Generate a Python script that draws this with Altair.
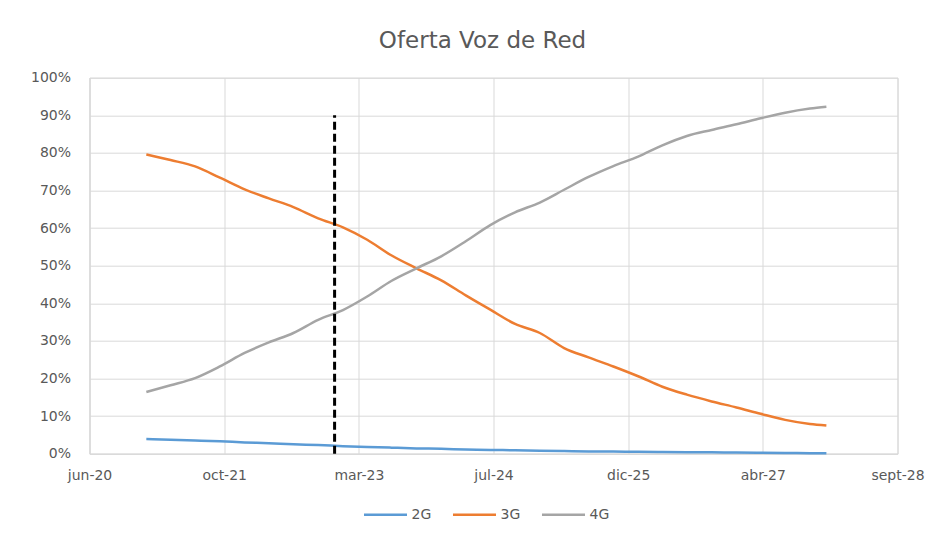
import altair as alt
import pandas as pd

dates = [
    "2021-01-15", "2021-04-15", "2021-07-15", "2021-10-15",
    "2022-01-15", "2022-04-15", "2022-07-15", "2022-10-15",
    "2023-01-15", "2023-04-15", "2023-07-15", "2023-10-15",
    "2024-01-15", "2024-04-15", "2024-07-15", "2024-10-15",
    "2025-01-15", "2025-04-15", "2025-07-15", "2025-10-15",
    "2026-01-15", "2026-04-15", "2026-07-15", "2026-10-15",
    "2027-01-15", "2027-04-15", "2027-07-15", "2027-10-15",
    "2027-12-15",
]
g2 = [3.9, 3.7, 3.5, 3.3, 3.0, 2.8, 2.5, 2.3, 2.0, 1.8, 1.6, 1.4, 1.3, 1.1, 1.0,
      0.9, 0.8, 0.7, 0.6, 0.55, 0.5, 0.45, 0.4, 0.35, 0.3, 0.25, 0.2, 0.15, 0.1]
g3 = [79.6, 78.1, 76.4, 73.4, 70.3, 67.9, 65.6, 62.6, 60.2, 56.9, 52.7, 49.3, 46.1,
      42.1, 38.3, 34.5, 32.1, 28.1, 25.6, 23.2, 20.6, 17.8, 15.7, 13.9, 12.3, 10.6,
      9.0, 7.9, 7.5]
g4 = [16.4, 18.2, 20.1, 23.2, 26.8, 29.6, 32.1, 35.6, 38.2, 41.8, 46.0, 49.3, 52.5,
      56.5, 60.8, 64.2, 66.8, 70.2, 73.6, 76.5, 79.0, 82.0, 84.5, 86.1, 87.6, 89.2,
      90.7, 91.8, 92.3]

series_names = ["2G", "3G", "4G"]
series_colors = ["#5B9BD5", "#ED7D31", "#A5A5A5"]

tick_dates = ["2020-06-18", "2021-10-31", "2023-03-15", "2024-07-27",
              "2025-12-09", "2027-04-23", "2028-09-04"]
tick_labels = ["jun-20", "oct-21", "mar-23", "jul-24", "dic-25", "abr-27", "sept-28"]
y_ticks = [0.0, 0.1, 0.2, 0.3, 0.4, 0.5, 0.6, 0.7, 0.8, 0.9, 1.0]

marker_date = "2022-12-15"
marker_top = 0.9

rows = []
for name, vals in zip(series_names, [g2, g3, g4]):
    for d, v in zip(dates, vals):
        rows.append({"fecha": d, "serie": name, "valor": v / 100.0})
df = pd.DataFrame(rows)

tick_ms = [int(pd.Timestamp(t).value // 10**6) for t in tick_dates]
label_expr = "[" + ",".join("'%s'" % l for l in tick_labels) + "][indexof([" + \
    ",".join(str(t) for t in tick_ms) + "], +datum.value)]"

font = "DejaVu Sans"
grey_txt = "#595959"
grid = "#D9D9D9"

x_scale = alt.Scale(domain=[tick_ms[0], tick_ms[-1]])
x_axis = alt.Axis(values=tick_ms, labelExpr=label_expr, title=None, ticks=False,
                  grid=True, gridColor=grid, domainColor=grid, labelColor=grey_txt,
                  labelFont=font, labelFontSize=14, labelPadding=15, labelFlush=False,
                  labelOverlap=False)
y_scale = alt.Scale(domain=[0, 1], nice=False)
y_axis = alt.Axis(format=".0%", values=y_ticks, title=None,
                  ticks=False, grid=True, gridColor=grid, domainColor=grid,
                  labelColor=grey_txt, labelFont=font, labelFontSize=14,
                  labelPadding=19, labelOverlap=False)

lines = alt.Chart(df).mark_line(strokeWidth=2.5, interpolate="monotone").encode(
    x=alt.X("fecha:T", scale=x_scale, axis=x_axis),
    y=alt.Y("valor:Q", scale=y_scale, axis=y_axis),
    color=alt.Color("serie:N", scale=alt.Scale(domain=series_names, range=series_colors),
                    legend=alt.Legend(title=None, orient="none", direction="horizontal",
                                      legendX=273, legendY=414, symbolType="stroke",
                                      symbolSize=1850, symbolStrokeWidth=2.5,
                                      labelFont=font, labelFontSize=14,
                                      labelColor=grey_txt, columnPadding=16,
                                      labelOffset=3)),
)

mk = pd.DataFrame({"fecha": [marker_date], "y0": [0.0], "y1": [marker_top]})
rule = alt.Chart(mk).mark_rule(color="black", strokeWidth=3, strokeDash=[8, 4]).encode(
    x=alt.X("fecha:T", scale=x_scale, axis=x_axis),
    y=alt.Y("y0:Q", scale=y_scale, axis=y_axis),
    y2="y1:Q")

chart = alt.layer(lines, rule).properties(
    width=808, height=376,
    title=alt.TitleParams("Oferta Voz de Red", font=font, fontSize=23, fontWeight="normal",
                          color=grey_txt, anchor="middle", dx=-11, offset=18),
    autosize=alt.AutoSizeParams(type="none"),
    padding={"left": 81.5, "top": 69.7, "right": 33, "bottom": 80},
).configure_view(stroke=grid)

chart.save("out.html", embed_options={"renderer": "svg", "actions": False})
